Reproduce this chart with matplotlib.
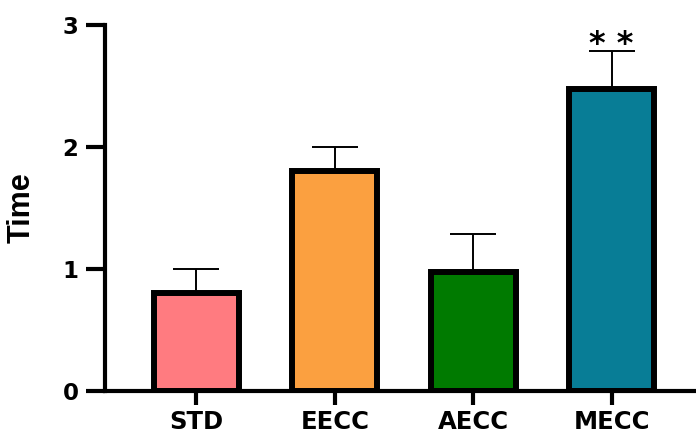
import matplotlib
matplotlib.use("Agg")
import matplotlib.pyplot as plt

groups = ["STD", "EECC", "AECC", "MECC"]
means = [0.80, 1.80, 0.975, 2.47]
errors = [0.20, 0.20, 0.31, 0.31]
colors = ["#ff7b80", "#fba040", "#007a00", "#087d96"]
stars = ["", "", "", "* *"]

plt.rcParams["font.family"] = ["DejaVu Sans"]
plt.rcParams["font.weight"] = "bold"

fig = plt.figure(figsize=(6.96, 4.37), dpi=100)
ax = fig.add_axes([105 / 696, 1 - 391 / 437, 1 - 105 / 696, (391 - 24.5) / 437])

x = list(range(len(groups)))
ax.errorbar(x, means, yerr=[[0] * len(errors), errors], fmt="none",
            ecolor="black", elinewidth=1.4, capsize=16.5, capthick=1.4, zorder=1)
ax.bar(x, means, width=0.615, color=colors, edgecolor="black", linewidth=4.3, zorder=2)

for xi, m, e, s in zip(x, means, errors, stars):
    if s:
        ax.annotate(s, (xi, m + e), xytext=(0, -6), textcoords="offset points",
                    ha="center", va="bottom", fontsize=23, fontweight="heavy")

ax.set_xlim(-0.66, 3.61)
ax.set_ylim(0, 3)
ax.set_yticks([0, 1, 2, 3])
ax.set_xticks(x)
ax.set_xticklabels(groups)

for side in ["top", "right"]:
    ax.spines[side].set_visible(False)
for side in ["left", "bottom"]:
    ax.spines[side].set_linewidth(3)

ax.tick_params(axis="y", length=14, width=3, pad=5, labelsize=16.5)
ax.tick_params(axis="x", length=10, width=3, pad=4, labelsize=17.5)
for lbl in ax.get_xticklabels() + ax.get_yticklabels():
    lbl.set_fontweight("bold")

ax.set_ylabel("Time", fontsize=22, fontweight="bold", family="Liberation Sans")
ax.yaxis.set_label_coords((21.5 - 105) / 591, (391 - 208) / 366.5)
ax.yaxis.label.set_va("center")

fig.savefig("out.png", dpi=100)
